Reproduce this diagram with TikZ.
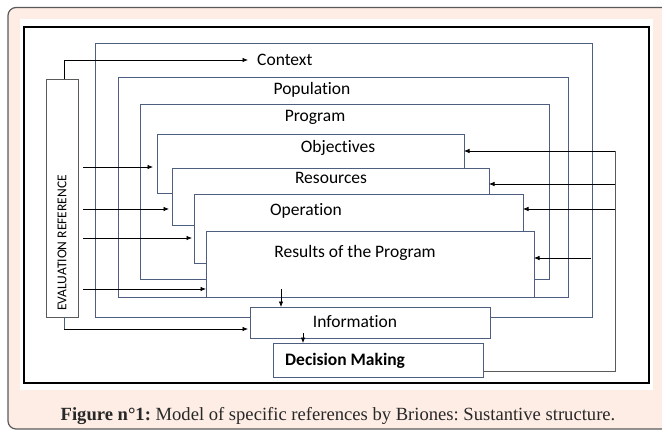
\documentclass[tikz,border=0pt]{standalone}
\usepackage{fontspec}
\setmainfont[Ligatures=NoCommon]{Carlito}
\newfontfamily\capfont{Liberation Serif}
\usetikzlibrary{arrows.meta}
\definecolor{peach}{RGB}{253,237,229}
\definecolor{bl}{RGB}{78,94,128}
\definecolor{frm}{RGB}{90,90,90}
\definecolor{captxt}{RGB}{40,40,40}
\frenchspacing
\begin{document}
\begin{tikzpicture}[x=1pt,y=-1pt,
  box/.style={draw=bl, fill=white, line width=0.8pt, anchor=north west, inner sep=0, outer sep=0},
  lab/.style={font=\fontsize{17.5}{20}\selectfont, inner sep=0},
  arr/.style={-{Latex[length=5.5pt,width=4.5pt]}, line width=0.7pt, black},
  lin/.style={draw=bl, line width=0.8pt}]
\useasboundingbox (0,0) rectangle (662,437);
% outer panel
\draw[frm, fill=peach, line width=1.2pt, rounded corners=8pt] (8,7.5) rectangle (690,429);
\fill[white] (20,19) rectangle (653,390);
\draw[black, line width=2.2pt] (24,27) rectangle (649,383);
% nested open frames
\draw[lin] (95,43) rectangle (592,317);
\draw[lin] (118,77) rectangle (568,297);
\draw[lin] (140,104) rectangle (549,279);
% boxes
\node[box, minimum width=307pt, minimum height=59pt] (obj) at (157,134) {};
\node[box, minimum width=317pt, minimum height=57pt] (res) at (172,168) {};
\node[box, minimum width=329pt, minimum height=69pt] (op) at (194,194) {};
\node[box, minimum width=328pt, minimum height=66pt] (rsl) at (206,231) {};
\node[box, minimum width=240pt, minimum height=31pt] (info) at (250,307) {};
\node[box, minimum width=210pt, minimum height=34pt] (dec) at (273,343) {};
\node[box, draw=frm, minimum width=32pt, minimum height=238pt] (ev) at (46,79) {};
% labels
\node[lab] (tpop) at (312,90) {Population};
\node[lab] (tprog) at (315,117) {Program};
\node[lab] (tobj) at (338,148) {Objectives};
\node[lab] (tres) at (331,178) {Resources};
\node[lab] (top) at (306,211) {Operation};
\node[lab] (trsl) at (355,253) {Results of the Program};
\node[lab] (tinfo) at (355,322) {Information};
\node[lab, anchor=west, font=\fontsize{17.5}{20}\selectfont\bfseries] (tdec) at (285,361) {Decision Making};
\node[lab, anchor=west] (ctx) at (257,60) {Context};
\node[rotate=90, inner sep=0, font=\fontsize{13.5}{15}\selectfont] (evt) at (62,243) {EVALUATION REFERENCE};
% left inputs
\coordinate (s1) at (83,167);
\coordinate (s2) at (83,209);
\coordinate (s3) at (83,238);
\coordinate (s4) at (83,289);
\draw[arr, shorten >=4pt] (s1) -- (obj.west |- s1);
\draw[arr, shorten >=3pt] (s2) -- (res.west |- s2);
\draw[arr, shorten >=2pt] (s3) -- (op.west |- s3);
\draw[arr] (s4) -- (rsl.west |- s4);
\draw[arr, shorten >=9pt] ([xshift=2pt]ev.north) |- (ctx.west);
\coordinate (s5) at (64,329);
\draw[bl, line width=0.8pt] ([xshift=2pt]ev.south) -- (s5);
\draw[arr, shorten >=2pt] (s5) -- (info.west |- s5);
% down arrows
\coordinate (d1) at (281,289);
\coordinate (d2) at (303,333);
\draw[arr] (d1) -- (d1 |- info.north);
\draw[arr] (d2) -- (d2 |- dec.north);
% feedback on right
\coordinate (rb) at (615,371);
\coordinate (rt) at (615,151);
\draw[frm, line width=0.8pt] (dec.east |- rb) -- (rb) -- (rt);
\coordinate (r2) at (615,184);
\coordinate (r3) at (615,209);
\coordinate (r4) at (591,258);
\draw[arr] (rt) -- (obj.east |- rt);
\draw[arr] (r2) -- (res.east |- r2);
\draw[arr] (r3) -- (op.east |- r3);
\draw[arr] (r4) -- (rsl.east |- r4);
% caption
\node[inner sep=0, text=captxt, font=\capfont\fontsize{18.6}{22}\selectfont] (cap) at (338,416) {\textbf{Figure n°1:} Model of specific references by Briones: Sustantive structure.};
\end{tikzpicture}
\end{document}
